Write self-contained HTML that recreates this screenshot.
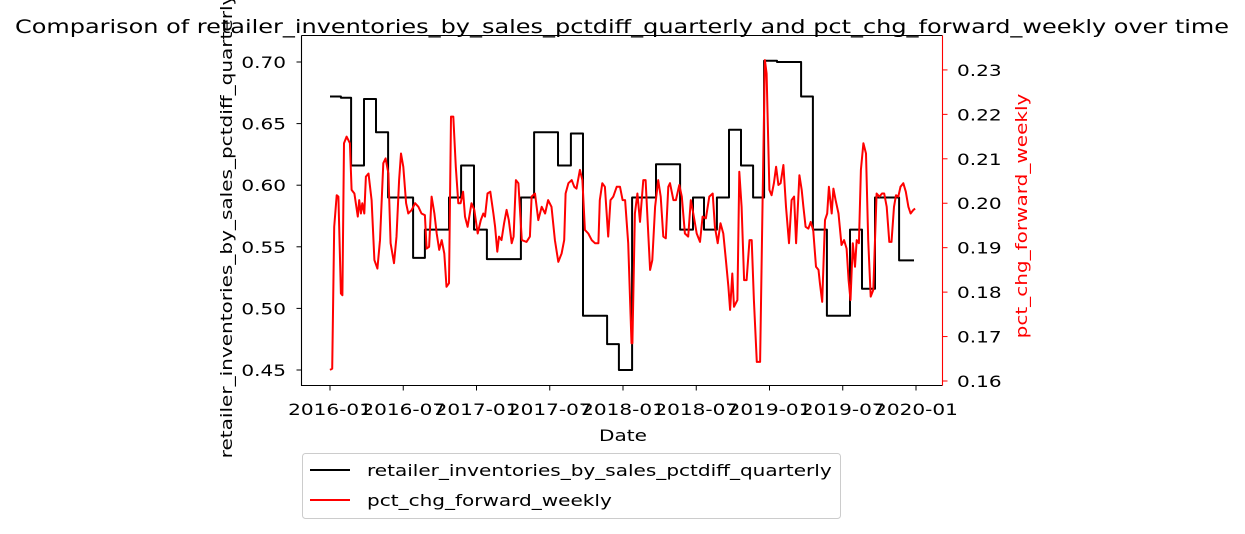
<!DOCTYPE html>
<html><head><meta charset="utf-8"><style>
html,body{margin:0;padding:0;background:#fff;}
svg{display:block;font-family:"DejaVu Sans","Liberation Sans",sans-serif;}
</style></head><body>
<svg id="chart" width="1245" height="534" viewBox="0 0 1245 534" xmlns="http://www.w3.org/2000/svg">
<rect width="1245" height="534" fill="#fff"/>
<text x="622" y="33" font-size="19" text-anchor="middle" textLength="1214" lengthAdjust="spacingAndGlyphs">Comparison of retailer_inventories_by_sales_pctdiff_quarterly and pct_chg_forward_weekly over time</text>
<g id="plot"></g>
<g id="axes"></g>
<text class="sc" transform="translate(232,226) rotate(-90)" font-size="16.3" text-anchor="middle">retailer_inventories_by_sales_pctdiff_quarterly</text>
<text class="sc" transform="translate(1027,216) rotate(-90)" font-size="16.3" fill="#ff0000" text-anchor="middle">pct_chg_forward_weekly</text>
<text class="sc" x="623" y="441" font-size="16.3" text-anchor="middle">Date</text>
<g>
<rect x="302.5" y="453.5" width="538" height="65" rx="3" fill="#fff" stroke="#ccc" stroke-width="1"/>
<line x1="310" y1="470" x2="350" y2="470" stroke="#000" stroke-width="2"/>
<text class="sc" x="367" y="476" font-size="16.3">retailer_inventories_by_sales_pctdiff_quarterly</text>
<line x1="310" y1="500" x2="350" y2="500" stroke="#ff0000" stroke-width="2"/>
<text class="sc" x="367" y="506" font-size="16.3">pct_chg_forward_weekly</text>
</g>
</svg>
<script>
// weeks since 2016-01-01 and values
const blackWeeks = [0,3.9,7.5,12.1,16.4,20.7,29.6,33.8,42.4,46.7,51.3,55.9,68.0,72.7,81.2,85.8,90.1,98.7,102.9,107.6,116.1,124.7,129.3,133.2,137.8,142.1,146.4,150.7,154.6,159.2,167.8,172.0,177.0,185.2,189.5,194.1,202.7];
const blackValues = [0.672,0.671,0.616,0.670,0.643,0.590,0.541,0.564,0.590,0.616,0.564,0.540,0.590,0.643,0.616,0.642,0.494,0.471,0.450,0.590,0.617,0.564,0.590,0.564,0.590,0.645,0.616,0.590,0.701,0.700,0.672,0.564,0.494,0.564,0.516,0.590,0.539];
const blackEndWeek = 208.0;
const redWeeks = [0,0.8,1.5,2.4,3.0,3.9,4.4,5.0,5.9,7.1,7.7,8.7,9.9,10.4,11.0,11.5,12.2,12.8,13.7,14.8,15.8,16.9,17.8,19.0,19.8,20.8,21.6,22.8,23.7,24.6,25.3,26.1,27.1,27.9,29.1,30.3,31.5,32.6,33.8,34.4,35.3,36.2,37.2,38.0,38.9,39.8,40.7,41.5,42.4,43.1,43.9,44.8,45.7,46.5,47.4,48.1,49.0,50.4,51.4,52.6,53.7,54.6,55.2,56.1,57.1,58.2,58.8,59.6,60.2,61.1,62.0,62.9,63.7,64.7,65.4,66.2,67.1,68.3,70.0,71.2,71.8,73.0,74.2,75.4,76.6,77.7,78.9,80.1,81.3,82.5,83.4,83.9,84.9,86.1,87.0,87.8,89.0,89.9,90.8,92.0,93.2,94.4,95.6,96.1,97.0,97.9,99.1,99.9,100.9,102.1,103.3,104.2,105.1,106.2,107.4,107.7,108.6,109.5,110.4,111.6,112.4,113.4,114.0,114.8,115.8,116.9,117.8,118.7,119.6,120.5,121.1,122.3,123.2,124.4,125.3,126.4,127.6,128.5,129.4,130.6,131.8,132.7,133.9,135.1,136.3,137.1,138.1,139.1,140.1,141.0,141.9,142.5,143.3,143.9,145.1,145.8,146.6,147.5,148.4,149.4,150.2,151.0,152.0,153.2,154.1,154.9,155.5,156.5,157.3,158.1,158.9,159.7,160.5,161.5,162.4,163.5,164.4,165.3,166.0,167.2,168.0,168.6,169.4,170.4,171.2,172.1,173.1,174.0,174.5,175.3,176.3,177.1,177.7,178.7,179.3,180.1,181.1,182.2,183.1,184.0,184.7,185.4,186.2,187.0,187.6,188.4,189.1,190.0,190.9,191.7,192.6,193.5,194.1,194.7,195.7,196.6,197.4,198.3,199.2,200.0,200.9,201.6,202.4,203.2,204.2,205.1,206.0,206.8,207.8,208.4];
const redValues = [0.1625,0.1628,0.1947,0.2018,0.2015,0.1797,0.1793,0.2135,0.2150,0.2135,0.2030,0.2022,0.1970,0.2007,0.1977,0.2000,0.1977,0.2060,0.2067,0.2007,0.1872,0.1853,0.1917,0.2090,0.2101,0.2067,0.1910,0.1865,0.1925,0.2052,0.2112,0.2082,0.2000,0.1977,0.1985,0.2000,0.1992,0.1977,0.1973,0.1898,0.1902,0.2015,0.1977,0.1932,0.1895,0.1917,0.1887,0.1812,0.1820,0.2195,0.2195,0.2082,0.2000,0.2000,0.2026,0.1970,0.1947,0.2000,0.1985,0.1932,0.1962,0.1977,0.1970,0.2022,0.2026,0.1977,0.1947,0.1891,0.1925,0.1917,0.1955,0.1985,0.1962,0.1910,0.1925,0.2052,0.2045,0.1917,0.1913,0.1925,0.2015,0.2022,0.1962,0.1992,0.1977,0.2007,0.1992,0.1917,0.1868,0.1887,0.1917,0.2022,0.2045,0.2052,0.2037,0.2033,0.2075,0.2052,0.1940,0.1932,0.1917,0.1910,0.1910,0.2007,0.2045,0.2037,0.1925,0.2007,0.2015,0.2037,0.2037,0.2007,0.2007,0.1910,0.1685,0.1685,0.1977,0.2022,0.1958,0.2052,0.2052,0.1925,0.1850,0.1872,0.1992,0.2052,0.2015,0.1925,0.1921,0.2037,0.2045,0.2007,0.2007,0.2041,0.2015,0.1932,0.1925,0.2007,0.1977,0.1932,0.1913,0.1970,0.1966,0.2015,0.2022,0.1947,0.1910,0.1955,0.1932,0.1872,0.1812,0.1760,0.1842,0.1767,0.1782,0.2071,0.1992,0.1827,0.1827,0.1917,0.1917,0.1782,0.1643,0.1643,0.2007,0.2322,0.2292,0.2030,0.2018,0.2045,0.2082,0.2041,0.2045,0.2086,0.1992,0.1910,0.2007,0.2015,0.1910,0.2063,0.2030,0.1992,0.1947,0.1943,0.1958,0.1940,0.1857,0.1850,0.1820,0.1778,0.1962,0.1977,0.2037,0.1977,0.2033,0.2007,0.1977,0.1906,0.1917,0.1898,0.1827,0.1782,0.1910,0.1857,0.1917,0.1910,0.2075,0.2135,0.2112,0.1917,0.1790,0.1805,0.1917,0.2022,0.2015,0.2022,0.2022,0.1992,0.1913,0.1913,0.1992,0.2018,0.2015,0.2037,0.2045,0.2026,0.1992,0.1977,0.1985,0.1988];
const xTickLabels = ["2016-01","2016-07","2017-01","2017-07","2018-01","2018-07","2019-01","2019-07","2020-01"];
const xTickYears = [0,0.5,1,1.5,2,2.5,3,3.5,4];
const leftTicks = [0.45,0.50,0.55,0.60,0.65,0.70];
const rightTicks = [0.16,0.17,0.18,0.19,0.20,0.21,0.22,0.23];

const L=301.5,R=942.5,T=35.5,B=385.5;
const xW = w => 330 + w*146.5/52.18;
const xY = y => 330 + y*146.5;
const yL = v => 370 - (v-0.45)*1232;
const yR = v => 381 - (v-0.16)*4444;
const NS="http://www.w3.org/2000/svg";
const plot=document.getElementById('plot'), axes=document.getElementById('axes');
function mk(tag,attrs,parent){const e=document.createElementNS(NS,tag);for(const k in attrs)e.setAttribute(k,attrs[k]);parent.appendChild(e);return e;}

let d='';
for(let i=0;i<blackWeeks.length;i++){
  const x=xW(blackWeeks[i]), y=yL(blackValues[i]);
  const xn=xW(i+1<blackWeeks.length?blackWeeks[i+1]:blackEndWeek);
  d+=(i?'L':'M')+x.toFixed(1)+','+y.toFixed(1)+'L'+xn.toFixed(1)+','+y.toFixed(1);
}
const bl=mk('path',{d:d,fill:'none',stroke:'#000','stroke-width':2,'stroke-linejoin':'round'},plot);



let d2='';
for(let i=0;i<redWeeks.length;i++){d2+=(i?'L':'M')+xW(redWeeks[i]).toFixed(1)+','+yR(redValues[i]).toFixed(1);}
const rl=mk('path',{d:d2,fill:'none',stroke:'#ff0000','stroke-width':2,'stroke-linejoin':'round'},plot);



const frame=mk('path',{d:`M${L},${T}H${R}M${L},${T}V${B}H${R}`,fill:'none',stroke:'#000','stroke-width':1.1},axes);


const rs=mk('line',{x1:R,y1:T,x2:R,y2:B,stroke:'#ff0000','stroke-width':1.1},axes);



for(let i=0;i<xTickLabels.length;i++){
  const x=xY(xTickYears[i]);
  const t=mk('line',{x1:x,y1:B,x2:x,y2:B+5,stroke:'#000','stroke-width':1},axes);
  
  
  const tx=mk('text',{x:x,y:415,'font-size':16.3,'text-anchor':'middle','class':'sc'},axes);
  tx.textContent=xTickLabels[i];
  
  
}
for(const v of leftTicks){
  const y=yL(v);
  const t=mk('line',{x1:L-5,y1:y,x2:L,y2:y,stroke:'#000','stroke-width':1},axes);
  
  
  const tx=mk('text',{x:286,y:y+6,'font-size':16.3,'text-anchor':'end','class':'sc'},axes);
  tx.textContent=v.toFixed(2);
  
  
}
for(const v of rightTicks){
  const y=yR(v);
  const t=mk('line',{x1:R,y1:y,x2:R+5,y2:y,stroke:'#ff0000','stroke-width':1},axes);
  
  
  const tx=mk('text',{x:957,y:y+6,'font-size':16.3,'text-anchor':'start','class':'sc'},axes);
  tx.textContent=v.toFixed(2);
  
  
}
document.querySelectorAll('text.sc').forEach(t=>{
  const w=t.getComputedTextLength();
  t.setAttribute('textLength',(w*1.23).toFixed(1));
  t.setAttribute('lengthAdjust','spacingAndGlyphs');
});
</script>
</body></html>
